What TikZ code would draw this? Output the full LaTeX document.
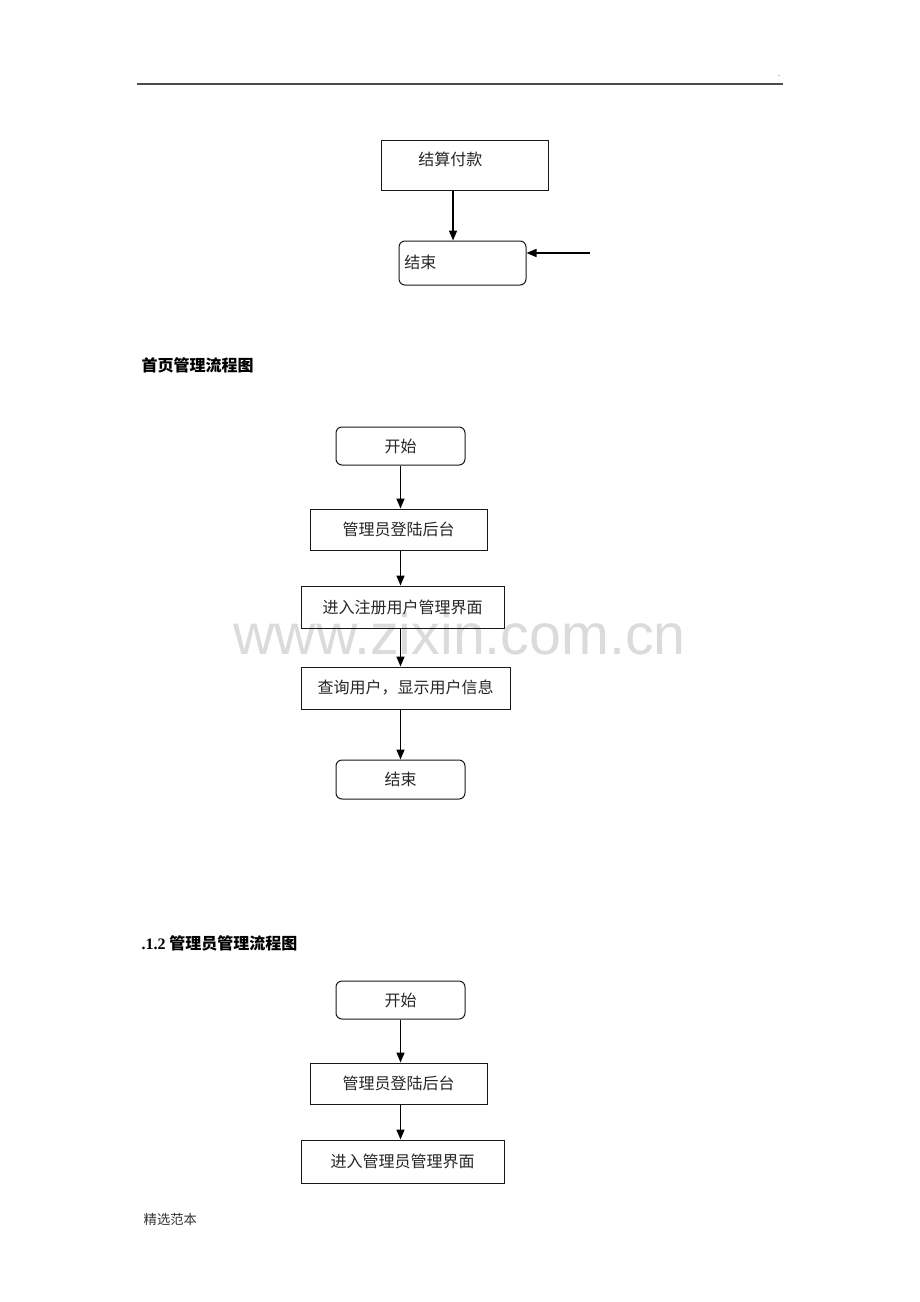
\documentclass[tikz,border=0pt]{standalone}
\usepackage{fontspec}
\setmainfont{Liberation Serif}
\newfontfamily\cjk{Noto Sans CJK SC}
\newfontfamily\wmfont{Liberation Sans}
\usetikzlibrary{arrows.meta}
\begin{document}
\begin{tikzpicture}[x=0.75pt,y=-0.75pt,
  every node/.style={font=\cjk\fontsize{12pt}{14pt}\selectfont, text=black!85},
  sqbox/.style={draw=black!90, line width=0.75pt, inner sep=0pt},
  rbox/.style={sqbox, rounded corners=4.5pt},
  arr/.style={draw=black, line width=1.2pt, -{Triangle[length=7.5pt,width=6pt]}},
  heading/.style={anchor=west, font=\cjk\bfseries\fontsize{12pt}{14pt}\selectfont, text=black},
]
\useasboundingbox (0,0) rectangle (920,1302);
\fill[white] (0,0) rectangle (920,1302);

% header
\coordinate (hl1) at (137,84);
\coordinate (hl2) at (783,84);
\draw[line width=1.2pt, color=black!70] (hl1) -- (hl2);
\node[font=\rmfamily\fontsize{6pt}{7pt}\selectfont] (dot) at (779,76) {.};

% watermark
\node[anchor=base, font=\wmfont\fontsize{43pt}{50pt}\selectfont, text=black!14] (wm) at (459.5,654) {www.zixin.com.cn};

% top fragment
\node[sqbox, minimum width=125.25pt, minimum height=36.75pt] (b1) at (464.5,165.5) {};
\node[anchor=west, inner sep=0pt] (b1t) at (418,159) {结算付款};
\node[rbox, minimum width=95.25pt, minimum height=33pt] (e1) at (462.5,263) {};
\node[anchor=west, inner sep=0pt] (e1t) at (404,262) {结束};
\draw[arr] ([xshift=-8.6pt]b1.south) -- ([xshift=-8.6pt]b1.south |- e1.north);
\coordinate (in1) at (590,253);
\draw[arr] (in1) -- (in1 -| e1.east);

% section 1
\node[heading] (h1) at (137,365) {首页管理流程图};
\node[rbox, minimum width=96.75pt, minimum height=28.5pt] (s2) at (400.5,446) {开始};
\node[sqbox, minimum width=132.75pt, minimum height=30.75pt] (l2) at (398.5,529.5) {管理员登陆后台};
\node[sqbox, minimum width=152.25pt, minimum height=31.5pt] (r2) at (402.5,607) {进入注册用户管理界面};
\node[sqbox, minimum width=156.75pt, minimum height=31.5pt] (q2) at (405.5,688) {查询用户，显示用户信息};
\node[rbox, minimum width=96.75pt, minimum height=29.25pt] (e2) at (400.5,779.5) {结束};
\draw[arr] (s2.south) -- (s2.south |- l2.north);
\draw[arr] (s2.south |- l2.south) -- (s2.south |- r2.north);
\draw[arr] (s2.south |- r2.south) -- (s2.south |- q2.north);
\draw[arr] (s2.south |- q2.south) -- (s2.south |- e2.north);

% section 2
\node[heading] (h2) at (137,943) {{\rmfamily .1.2} 管理员管理流程图};
\node[rbox, minimum width=96.75pt, minimum height=28.5pt] (s3) at (400.5,1000) {开始};
\node[sqbox, minimum width=132.75pt, minimum height=30.75pt] (l3) at (398.5,1083.5) {管理员登陆后台};
\node[sqbox, minimum width=152.25pt, minimum height=32.25pt] (m3) at (402.5,1161.5) {进入管理员管理界面};
\draw[arr] (s3.south) -- (s3.south |- l3.north);
\draw[arr] (s3.south |- l3.south) -- (s3.south |- m3.north);

% footer
\node[anchor=west, font=\cjk\fontsize{10pt}{12pt}\selectfont, text=black!80] (ft) at (139,1219) {精选范本};
\end{tikzpicture}
\end{document}
